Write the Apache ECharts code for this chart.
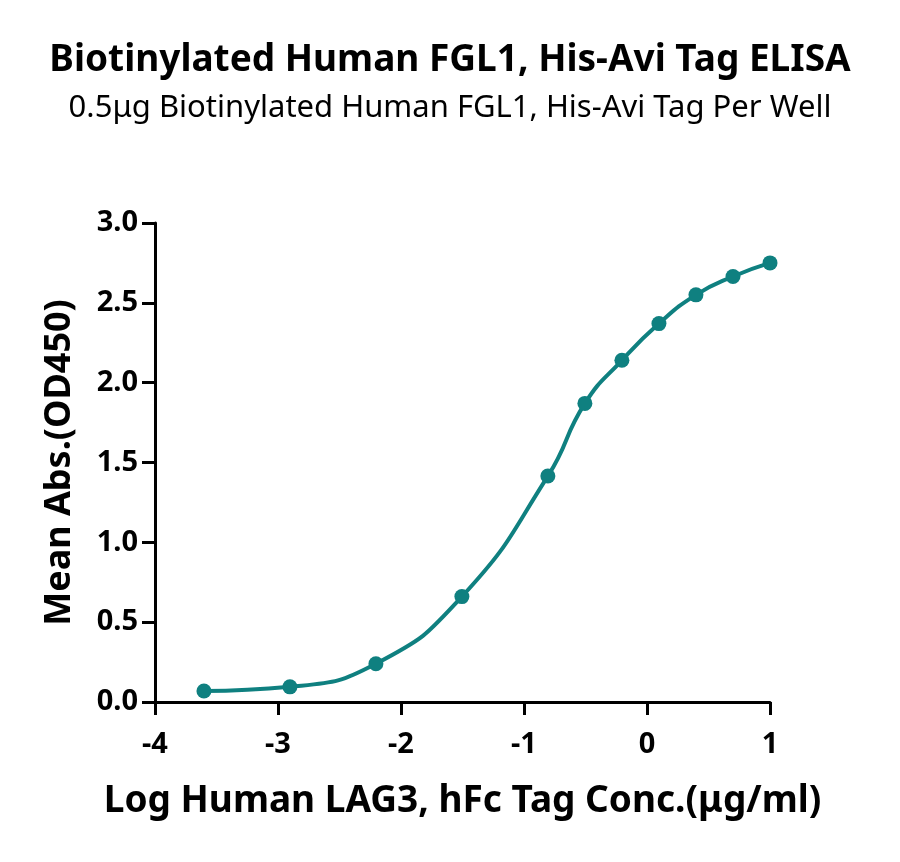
<!DOCTYPE html>
<html>
<head>
<meta charset="utf-8">
<script src="https://cdn.jsdelivr.net/npm/echarts@6/dist/echarts.min.js"></script>
<style>
html,body{margin:0;padding:0;background:#fff;}
#chart{width:900px;height:862px;}
</style>
</head>
<body>
<div id="chart"></div>
<script>
const titleText = "Biotinylated Human FGL1, His-Avi Tag ELISA";
const subtitleText = "0.5\u03bcg Biotinylated Human FGL1, His-Avi Tag Per Well";
const xAxisName = "Log Human LAG3, hFc Tag Conc.(\u03bcg/ml)";
const yAxisName = "Mean Abs.(OD450)";
const logConc = [-3.602, -2.903, -2.204, -1.505, -0.806, -0.505, -0.204, 0.097, 0.398, 0.699, 1.0];
const meanAbs = [0.069, 0.095, 0.24, 0.66, 1.415, 1.87, 2.14, 2.37, 2.55, 2.665, 2.75];

const FONT = "Noto Sans";
const teal = "#0f8080";
const chart = echarts.init(document.getElementById('chart'));
chart.setOption({
  backgroundColor: '#fff',
  animation: false,
  title: [
    {text: titleText, left: 'center', top: 37,
     textStyle: {fontFamily: FONT, fontWeight: 'bold', fontSize: 37, color: '#000'}},
    {text: subtitleText, left: 'center', top: 88,
     textStyle: {fontFamily: FONT, fontWeight: 'normal', fontSize: 31, color: '#000'}}
  ],
  grid: {left: 155, right: 130, top: 223, bottom: 160, containLabel: false},
  xAxis: {
    type: 'value', min: -4, max: 1, interval: 1,
    name: xAxisName, nameLocation: 'middle', nameGap: 81,
    nameTextStyle: {fontFamily: FONT, fontWeight: 'bold', fontSize: 37, color: '#000'},
    axisLine: {show: true, onZero: false, lineStyle: {color: '#000', width: 3}},
    axisTick: {show: true, length: 13, lineStyle: {color: '#000', width: 3}},
    axisLabel: {fontFamily: FONT, fontWeight: 'bold', fontSize: 29, color: '#000', margin: 28},
    splitLine: {show: false}
  },
  yAxis: {
    type: 'value', min: 0, max: 3, interval: 0.5,
    name: yAxisName, nameLocation: 'middle', nameGap: 77, nameRotate: 90,
    nameTextStyle: {fontFamily: FONT, fontWeight: 'bold', fontSize: 36, color: '#000'},
    axisLine: {show: true, onZero: false, lineStyle: {color: '#000', width: 3}},
    axisTick: {show: true, length: 13, lineStyle: {color: '#000', width: 3}},
    axisLabel: {fontFamily: FONT, fontWeight: 'bold', fontSize: 29, color: '#000', margin: 17,
      formatter: v => v.toFixed(1)},
    splitLine: {show: false}
  },
  series: [{
    type: 'line',
    data: logConc.map((x, i) => [x, meanAbs[i]]),
    smooth: 0.5,
    symbol: 'circle',
    symbolSize: 15,
    itemStyle: {color: teal},
    lineStyle: {color: teal, width: 4},
    clip: false
  }]
});
</script>
</body>
</html>
